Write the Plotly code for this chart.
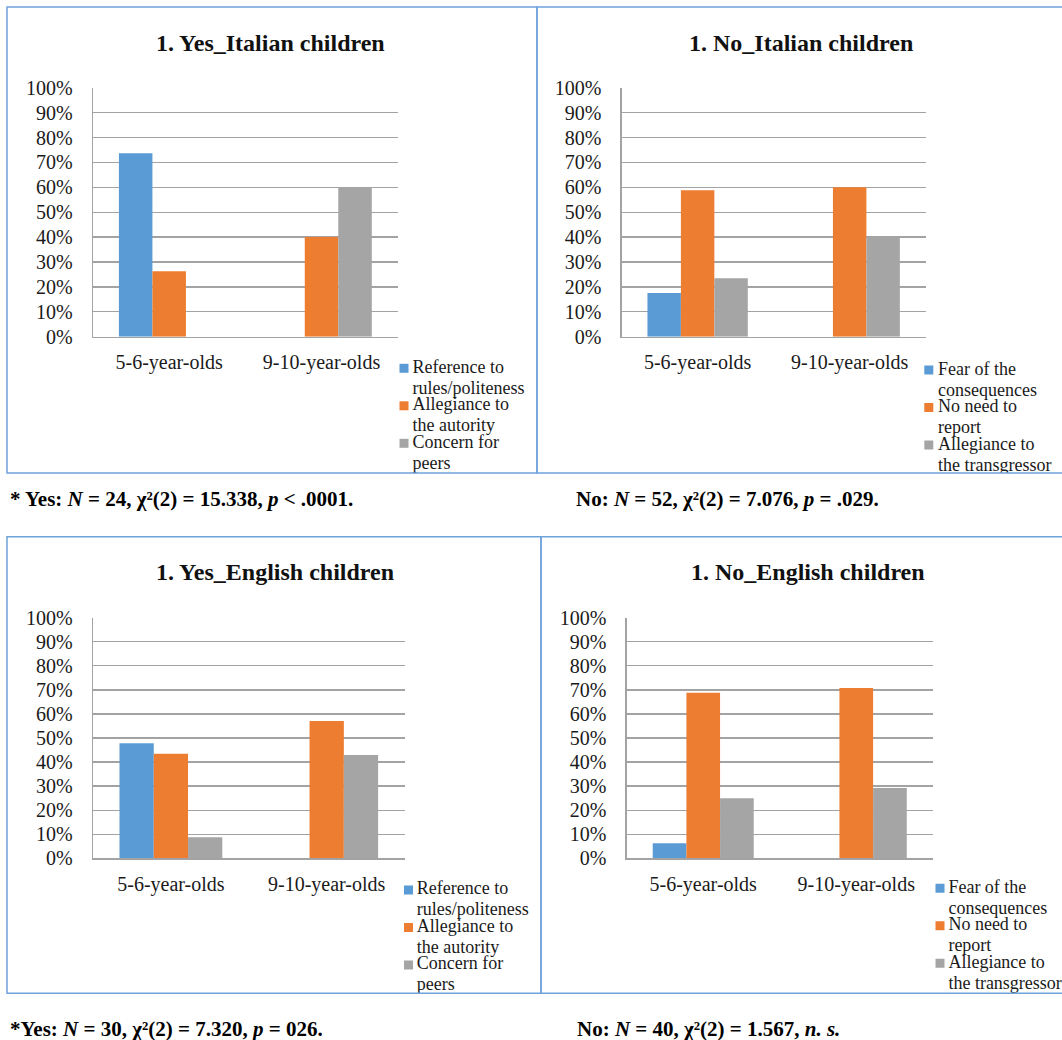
import plotly.graph_objects as go

W, H = 1062, 1040
SERIF = "Liberation Serif"
TXT = "#1a1a1a"
GRID = "#a3a3a3"
FRAME = "#6fa3db"

# ---- data -----------------------------------------------------------------
categories = ["5-6-year-olds", "9-10-year-olds"]
pct_ticks = list(range(0, 101, 10))
pct_tick_text = [f"{v}%" for v in pct_ticks]

yes_labels = ["Reference to\nrules/politeness", "Allegiance to\nthe autority", "Concern for\npeers"]
no_labels = ["Fear of the\nconsequences", "No need to\nreport", "Allegiance to\nthe transgressor"]
series_colors = ["#5B9BD5", "#ED7D31", "#A5A5A5"]

# percentages for (5-6-year-olds, 9-10-year-olds)
yes_italian_rules = [73.7, 0.0]
yes_italian_authority = [26.3, 40.0]
yes_italian_peers = [0.0, 60.0]

no_italian_fear = [17.6, 0.0]
no_italian_no_need = [58.8, 60.0]
no_italian_transgressor = [23.5, 40.0]

yes_english_rules = [47.8, 0.0]
yes_english_authority = [43.5, 57.1]
yes_english_peers = [8.7, 42.9]

no_english_fear = [6.3, 0.0]
no_english_no_need = [68.8, 70.8]
no_english_transgressor = [25.0, 29.2]

titles = ["1. Yes_Italian children", "1. No_Italian children",
          "1. Yes_English children", "1. No_English children"]

captions = [
    "* Yes: <i>N</i> = 24, χ²(2) = 15.338, <i>p</i> &lt; .0001.",
    "No: <i>N</i> = 52, χ²(2) = 7.076, <i>p</i> = .029.",
    "*Yes: <i>N</i> = 30, χ²(2) = 7.320, <i>p</i> = 026.",
    "No: <i>N</i> = 40, χ²(2) = 1.567, <i>n. s.</i>",
]

panel_series = [
    (yes_labels, [yes_italian_rules, yes_italian_authority, yes_italian_peers]),
    (no_labels, [no_italian_fear, no_italian_no_need, no_italian_transgressor]),
    (yes_labels, [yes_english_rules, yes_english_authority, yes_english_peers]),
    (no_labels, [no_english_fear, no_english_no_need, no_english_transgressor]),
]

# ---- page layout (pixels) -------------------------------------------------
layout_px = [
    dict(box=(7, 7, 537, 473), plot=(93, 87.7, 397.7, 336.7), title=(270, 43),
         sq_x=399.5, txt_x=412.5, leg_y=368.3, caption=(8, 499)),
    dict(box=(537, 7, W + 10, 473), plot=(621.6, 87.7, 925.7, 336.7), title=(801, 43),
         sq_x=924.3, txt_x=938, leg_y=370, caption=(574, 499)),
    dict(box=(7, 536.7, 541, 993.3), plot=(93, 617.7, 404.6, 858.3), title=(274.6, 571.7),
         sq_x=404, txt_x=416.7, leg_y=890, caption=(8, 1029)),
    dict(box=(541, 536.7, W + 10, 993.3), plot=(626.7, 617.7, 932.8, 858.3), title=(808.3, 571.7),
         sq_x=935.5, txt_x=948.4, leg_y=888.3, caption=(575, 1029)),
]
LINE_GAP = 21
ITEM_GAP = 37.5
SQ = 9


def fx(px):
    return px / W


def fy(py):
    return 1 - py / H


fig = go.Figure()
shapes = []
annotations = []
axes = {}

for i, (cfg, (labels, values)) in enumerate(zip(layout_px, panel_series), start=1):
    xa = "x" if i == 1 else f"x{i}"
    ya = "y" if i == 1 else f"y{i}"
    ox, oy = f"x{i + 4}", f"y{i + 4}"
    pl, pt, pr, pb = cfg["plot"]
    bl, bt, br, bb = cfg["box"]

    # bar chart axes
    axes["xaxis" if i == 1 else f"xaxis{i}"] = dict(
        domain=[fx(pl), fx(pr)], anchor=ya, type="category",
        showline=True, linecolor=GRID, linewidth=1.3, showgrid=False, zeroline=False,
        ticks="", ticklabelstandoff=7,
        tickfont=dict(family=SERIF, size=20, color=TXT), fixedrange=True)
    axes["yaxis" if i == 1 else f"yaxis{i}"] = dict(
        domain=[fy(pb), fy(pt)], anchor=xa, range=[0, 100],
        tickvals=pct_ticks, ticktext=pct_tick_text,
        showgrid=True, gridcolor=GRID, gridwidth=1.3,
        showline=True, linecolor=GRID, linewidth=1.3, zeroline=False,
        ticks="", ticklabelstandoff=15,
        tickfont=dict(family=SERIF, size=20, color=TXT), fixedrange=True)

    # pixel-space overlay for the legend, clipped to the panel frame
    axes[f"xaxis{i + 4}"] = dict(domain=[fx(bl), min(1, fx(br))], anchor=oy,
                                 range=[bl, min(W, br)], visible=False, fixedrange=True)
    axes[f"yaxis{i + 4}"] = dict(domain=[fy(bb), fy(bt)], anchor=ox,
                                 range=[bb, bt], visible=False, fixedrange=True)

    for label, vals, color in zip(labels, values, series_colors):
        fig.add_trace(go.Bar(
            x=categories, y=vals, name=label.replace("\n", " "),
            marker=dict(color=color, line=dict(width=0)),
            xaxis=xa, yaxis=ya, showlegend=False))

    # legend: colour swatch + wrapped label lines
    line_x, line_y, line_t = [], [], []
    for k, (label, color) in enumerate(zip(labels, series_colors)):
        y0 = cfg["leg_y"] + k * ITEM_GAP
        shapes.append(dict(type="rect", xref=ox, yref=oy,
                           x0=cfg["sq_x"], x1=cfg["sq_x"] + SQ,
                           y0=y0 - SQ / 2, y1=y0 + SQ / 2,
                           fillcolor=color, line=dict(width=0), layer="above"))
        for j, part in enumerate(label.split("\n")):
            line_x.append(cfg["txt_x"])
            line_y.append(y0 + j * LINE_GAP)
            line_t.append(part)
    fig.add_trace(go.Scatter(
        x=line_x, y=line_y, text=line_t, mode="text", textposition="middle right",
        textfont=dict(family=SERIF, size=18, color=TXT),
        xaxis=ox, yaxis=oy, cliponaxis=True, hoverinfo="skip", showlegend=False))

    # panel frame
    shapes.append(dict(type="rect", xref="paper", yref="paper",
                       x0=fx(bl), x1=fx(br), y0=fy(bb), y1=fy(bt),
                       line=dict(color=FRAME, width=1.5), fillcolor="rgba(0,0,0,0)"))

    annotations.append(dict(
        text=f"<b>{titles[i - 1]}</b>", xref="paper", yref="paper",
        x=fx(cfg["title"][0]), y=fy(cfg["title"][1]),
        xanchor="center", yanchor="middle", showarrow=False,
        font=dict(family=SERIF, size=24, color="#111111")))
    annotations.append(dict(
        text=f"<b>{captions[i - 1]}</b>", xref="paper", yref="paper",
        x=fx(cfg["caption"][0]), y=fy(cfg["caption"][1]),
        xanchor="left", yanchor="middle", showarrow=False,
        font=dict(family=SERIF, size=21, color="#000000")))

fig.update_layout(
    width=W, height=H, autosize=False,
    margin=dict(l=0, r=0, t=0, b=0),
    template="none",
    paper_bgcolor="white", plot_bgcolor="rgba(0,0,0,0)",
    barmode="group", bargap=0.34, bargroupgap=0,
    showlegend=False,
    shapes=shapes, annotations=annotations,
    **axes,
)

fig.write_html("out.html", config=dict(displayModeBar=False, staticPlot=True))
